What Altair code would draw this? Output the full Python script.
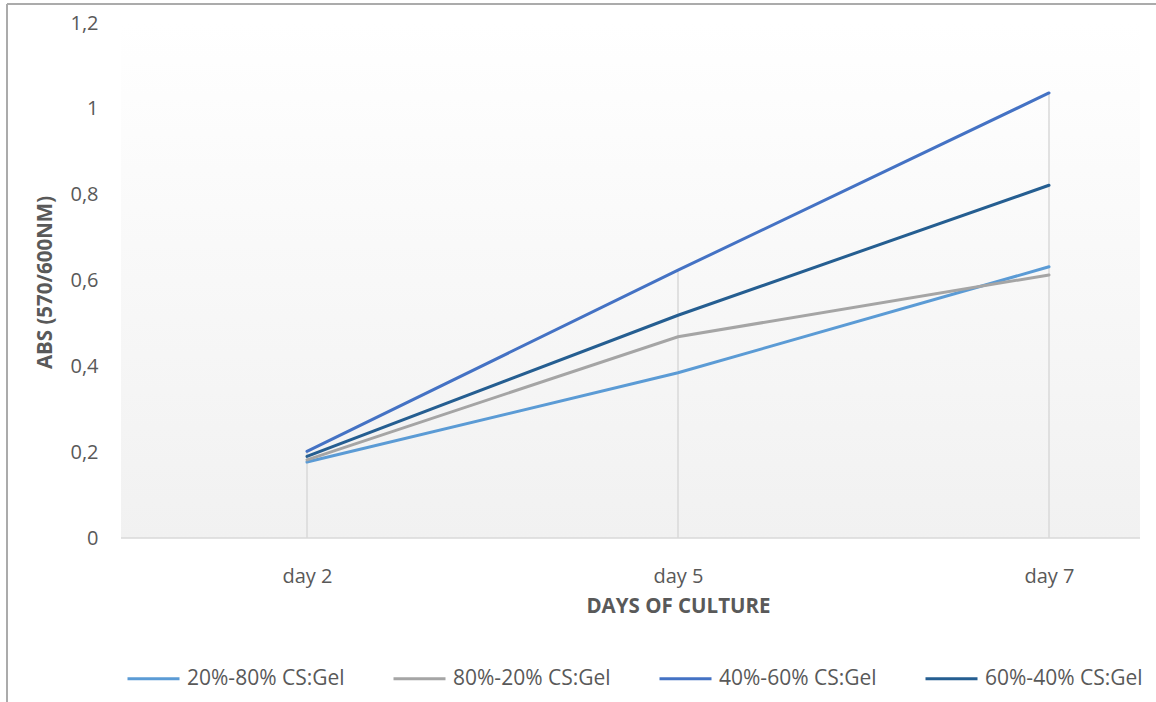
import altair as alt
import pandas as pd

# Culture time points and absorbance readings per scaffold composition
days = ["day 2", "day 5", "day 7"]
series_names = ["20%-80% CS:Gel", "80%-20% CS:Gel", "40%-60% CS:Gel", "60%-40% CS:Gel"]
abs_20_80 = [0.177, 0.385, 0.632]
abs_80_20 = [0.182, 0.469, 0.613]
abs_40_60 = [0.202, 0.624, 1.037]
abs_60_40 = [0.190, 0.519, 0.822]
series_colors = ["#5B9BD5", "#A5A5A5", "#4472C4", "#255E91"]
y_ticks = [0, 0.2, 0.4, 0.6, 0.8, 1.0, 1.2]

rows = []
for name, vals in zip(series_names, [abs_20_80, abs_80_20, abs_40_60, abs_60_40]):
    for d, v in zip(days, vals):
        rows.append({"day": d, "series": name, "value": v})
df = pd.DataFrame(rows)
one = pd.DataFrame({"k": [0]})

W, H = 1019, 515
FONT = "Open Sans"
TXT = "#595959"

x_scale = alt.Scale(type="point", domain=days, range=[186, 928], padding=0)
y_scale = alt.Scale(domain=[0, 1.2], nice=False, zero=True)

# Plot-area gradient background
bg = alt.Chart(one).mark_rect(
    color=alt.Gradient(
        gradient="linear",
        stops=[alt.GradientStop(color="#FFFFFF", offset=0),
               alt.GradientStop(color="#F1F1F1", offset=1)],
        x1=0, x2=0, y1=0, y2=1,
    )
).encode(x=alt.value(0), x2=alt.value(W), y=alt.value(0), y2=alt.value(H))

# Outer chart frame (top and left edges)
frame_top = alt.Chart(one).mark_rule(color="#ABABAB", strokeWidth=2).encode(
    x=alt.value(-114), x2=alt.value(1156 - 121), y=alt.value(-19)
)
frame_left = alt.Chart(one).mark_rule(color="#ABABAB", strokeWidth=2).encode(
    x=alt.value(-114), y=alt.value(-19), y2=alt.value(702 - 23)
)

# Category axis baseline
baseline = alt.Chart(one).mark_rule(color="#D9D9D9", strokeWidth=1.5).encode(
    x=alt.value(0), x2=alt.value(W), y=alt.value(H)
)

# Drop lines from the highest value down to zero
drops = alt.Chart(df).mark_rule(color="#D9D9D9", strokeWidth=1.5).encode(
    x=alt.X("day:N", scale=x_scale),
    y=alt.Y("max(value):Q", scale=y_scale),
    y2=alt.datum(0),
)

lines = alt.Chart(df).mark_line(strokeWidth=3, strokeCap="round").encode(
    x=alt.X(
        "day:N", scale=x_scale, sort=days,
        axis=alt.Axis(
            title="DAYS OF CULTURE", domain=False, ticks=False, grid=False,
            labelAngle=0, labelAlign="center", labelFlush=False,
            labelFont=FONT, labelFontSize=20, labelColor=TXT,
            labelPadding=38, titleFont=FONT, titleFontSize=20.5, titleFontWeight="bold",
            titleColor=TXT, titlePadding=10, titleX=557,
        ),
    ),
    y=alt.Y(
        "value:Q", scale=y_scale,
        axis=alt.Axis(
            title="ABS (570/600NM)", values=y_ticks, domain=False, ticks=False, grid=False,
            labelExpr="replace(format(datum.value, '~g'), '.', ',')",
            labelFont=FONT, labelFontSize=20, labelColor=TXT, labelPadding=23,
            titleFont=FONT, titleFontSize=20.5, titleFontWeight="bold", titleColor=TXT,
            titleAngle=-90, titleX=-76, titleY=259, titleAlign="center", titleBaseline="middle",
        ),
    ),
    color=alt.Color(
        "series:N",
        scale=alt.Scale(domain=series_names, range=series_colors),
        sort=series_names,
        legend=alt.Legend(
            title=None, orient="none", direction="horizontal",
            legendX=5, legendY=628, columns=4, columnPadding=42,
            symbolType="stroke", symbolSize=2704, symbolStrokeWidth=3,
            labelFont=FONT, labelFontSize=21, labelColor=TXT, labelOffset=6, labelLimit=400,
        ),
    ),
    order=alt.Order("day:N"),
)

chart = alt.layer(bg, frame_top, frame_left, baseline, drops, lines).properties(
    width=W, height=H,
    autosize=alt.AutoSizeParams(type="none"),
    padding={"left": 121, "top": 23, "right": 16, "bottom": 164},
    background="white",
).configure_view(stroke=None)

chart.save("out.html", embed_options={"renderer": "svg", "actions": False})
